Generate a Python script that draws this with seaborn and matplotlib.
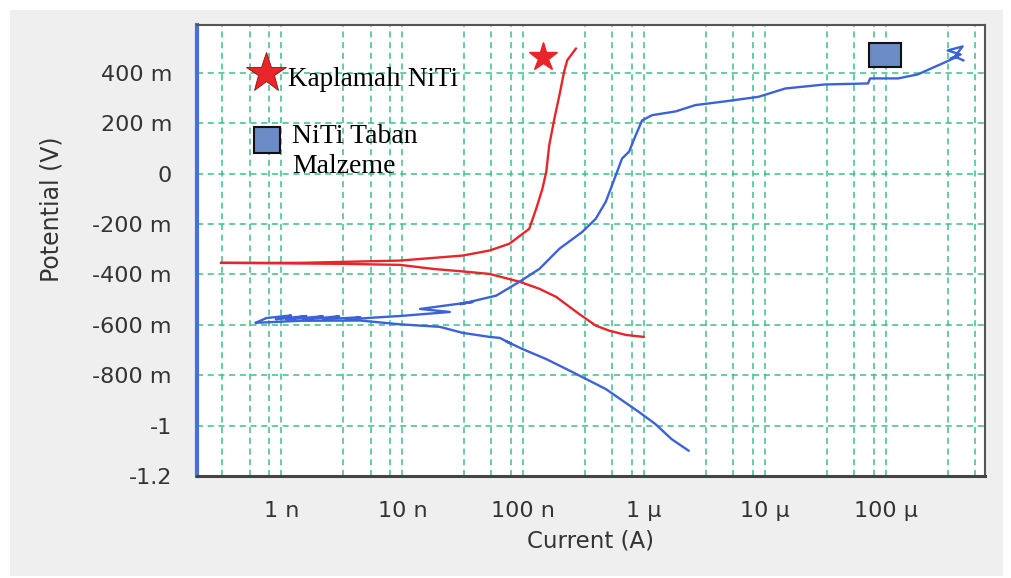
import numpy as np
import pandas as pd
import matplotlib
matplotlib.use("Agg")
import matplotlib.pyplot as plt
from matplotlib.ticker import FixedLocator, MultipleLocator, NullFormatter
from matplotlib.patches import Rectangle
import seaborn as sns

# ---------------- data ----------------
# Kaplamali NiTi (coated) - cathodic branch
red_cath_I = [3.15e-10, 3.25e-9, 9.55e-9, 1.79e-8, 3.16e-8, 5.27e-8, 9.31e-8, 1.36e-7,
              1.87e-7, 2.90e-7, 3.98e-7, 5.13e-7, 7.05e-7, 9.96e-7]
red_cath_E = [-0.354, -0.358, -0.362, -0.378, -0.388, -0.398, -0.429, -0.457,
              -0.489, -0.557, -0.603, -0.623, -0.640, -0.648]
# Kaplamali NiTi - anodic branch
red_an_I = [3.15e-10, 1.43e-9, 9.55e-9, 3.16e-8, 5.27e-8, 7.69e-8, 1.12e-7, 1.28e-7,
            1.44e-7, 1.55e-7, 1.64e-7, 1.81e-7, 1.99e-7, 2.18e-7, 2.31e-7, 2.73e-7]
red_an_E = [-0.354, -0.354, -0.345, -0.325, -0.305, -0.278, -0.219, -0.139,
            -0.060, 0.008, 0.113, 0.219, 0.311, 0.406, 0.450, 0.497]

# NiTi Taban Malzeme (substrate) - cathodic branch
blue_cath_I = [6.11e-10, 1.43e-9, 4.48e-9, 9.55e-9, 2.04e-8, 3.16e-8, 5.27e-8, 6.4e-8,
               8.0e-8, 7.2e-8, 9.84e-8, 1.55e-7, 2.54e-7, 4.82e-7, 9.06e-7, 1.24e-6,
               1.69e-6, 2.34e-6]
blue_cath_E = [-0.592, -0.584, -0.583, -0.598, -0.608, -0.632, -0.648, -0.652,
               -0.676, -0.665, -0.696, -0.736, -0.787, -0.855, -0.946, -0.994,
               -1.054, -1.100]
# NiTi Taban Malzeme - anodic branch
blue_an_I = [6.11e-10, 7.52e-10, 1.2e-9, 9.0e-10, 1.6e-9, 1.1e-9, 2.2e-9, 1.5e-9,
             3.0e-9, 2.2e-9, 4.48e-9, 3.4e-9, 5.5e-9, 9.55e-9, 2.47e-8, 1.40e-8,
             3.82e-8, 3.0e-8, 5.98e-8,
             9.31e-8, 1.36e-7, 1.99e-7, 3.08e-7, 3.98e-7, 4.82e-7, 5.82e-7, 6.56e-7,
             7.50e-7, 8.51e-7, 9.60e-7, 1.16e-6, 1.82e-6, 2.65e-6, 4.69e-6, 8.84e-6,
             1.47e-5, 3.13e-5, 7.11e-5, 7.4e-5, 1.26e-4, 1.84e-4, 2.35e-4, 3.05e-4,
             3.92e-4, 3.43e-4, 4.15e-4, 3.24e-4, 4.31e-4, 3.72e-4, 4.39e-4]
blue_an_E = [-0.592, -0.573, -0.563, -0.578, -0.565, -0.579, -0.566, -0.580,
             -0.566, -0.578, -0.570, -0.580, -0.572, -0.565, -0.549, -0.537,
             -0.509, -0.518, -0.484,
             -0.429, -0.378, -0.298, -0.231, -0.179, -0.111, -0.007, 0.060,
             0.087, 0.152, 0.211, 0.232, 0.247, 0.272, 0.287, 0.305,
             0.338, 0.354, 0.358, 0.378, 0.378, 0.394, 0.417, 0.441,
             0.465, 0.457, 0.473, 0.489, 0.505, 0.465, 0.449]

x_ticks = [1e-9, 1e-8, 1e-7, 1e-6, 1e-5, 1e-4]
x_tick_labels = ["1 n", "10 n", "100 n", "1 μ", "10 μ", "100 μ"]
y_ticks = [0.4, 0.2, 0.0, -0.2, -0.4, -0.6, -0.8, -1.0, -1.2]
y_tick_labels = ["400 m", "200 m", "0", "-200 m", "-400 m", "-600 m", "-800 m", "-1", "-1.2"]
minor_mult = [3.25, 5.45, 7.9]

legend_coated = "Kaplamalı NiTi"
legend_base = ["NiTi Taban", "Malzeme"]
x_label = "Current (A)"
y_label = "Potential (V)"

RED = "#e8252b"
BLUE = "#3c62d8"
GRID = "#3dbf8c"
SQ = "#6b8cc6"

# ---------------- table ----------------
frames = []
for name, I, E in [("red_cath", red_cath_I, red_cath_E),
                   ("red_an", red_an_I, red_an_E),
                   ("blue_cath", blue_cath_I, blue_cath_E),
                   ("blue_an", blue_an_I, blue_an_E)]:
    frames.append(pd.DataFrame({"current": I, "potential": E,
                                "sample": name.split("_")[0], "branch": name}))
df = pd.concat(frames, ignore_index=True)

# ---------------- figure ----------------
sns.set_style("white")
plt.rcParams["font.family"] = ["DejaVu Sans"]
fig = plt.figure(figsize=(10.12, 5.78), dpi=100, facecolor="white")
# light grey panel inside a thin white frame
panel = Rectangle((10 / 1012, 2 / 578), 993 / 1012, 566 / 578,
                  transform=fig.transFigure, facecolor="#efefef",
                  edgecolor="none", zorder=-10)
fig.add_artist(panel)
ax = fig.add_axes([197 / 1012, 1 - 476 / 578, 788 / 1012, 451 / 578])
ax.set_zorder(1)
ax.set_facecolor("white")

sns.lineplot(data=df, x="current", y="potential", hue="sample", units="branch",
             estimator=None, sort=False, palette={"red": RED, "blue": BLUE},
             linewidth=1.7, legend=False, ax=ax)

ax.set_xscale("log")
ax.set_xlim(2.0e-10, 6.6e-4)
ax.set_ylim(-1.2, 0.59)

ax.set_xticks(x_ticks)
ax.set_xticklabels(x_tick_labels)
minors = [m * d for d in [1e-10, 1e-9, 1e-8, 1e-7, 1e-6, 1e-5, 1e-4] for m in minor_mult]
ax.xaxis.set_minor_locator(FixedLocator(minors))
ax.xaxis.set_minor_formatter(NullFormatter())
ax.set_yticks(y_ticks)
ax.set_yticklabels(y_tick_labels)
ax.yaxis.set_minor_locator(MultipleLocator(0.04))

ax.grid(True, which="major", axis="both", color=GRID, linestyle=(0, (4, 3)), linewidth=1.1)
ax.grid(True, which="minor", axis="x", color=GRID, linestyle=(0, (4, 3)), linewidth=1.1)

ax.tick_params(axis="both", which="major", direction="out", length=6, width=1,
               color="#9a9a9a", labelsize=16, labelcolor="#333333")
ax.tick_params(axis="x", which="major", pad=12)
ax.tick_params(axis="y", which="major", pad=12)
ax.tick_params(axis="x", which="minor", length=0)
ax.tick_params(axis="y", which="minor", direction="out", length=4, width=0.8, color="#9a9a9a")

for s in ["top", "right"]:
    ax.spines[s].set_color("#555555")
    ax.spines[s].set_linewidth(1.5)
ax.spines["bottom"].set_color("#444444")
ax.spines["bottom"].set_linewidth(2.2)
ax.spines["left"].set_color("#4a70d8")
ax.spines["left"].set_linewidth(3)

ax.set_xlabel(x_label, fontsize=16.5, color="#333333")
ax.set_ylabel(y_label, fontsize=17, color="#333333")
ax.xaxis.set_label_coords(0.5, -0.118)
ax.yaxis.set_label_coords(-0.170, 0.592)

# ---------------- annotation legend ----------------
ax.plot([0.0876], [0.893], marker="*", markersize=30, color=RED, markeredgecolor="#8a1010",
        markeredgewidth=0.6, transform=ax.transAxes, clip_on=False, linestyle="none")
ax.text(0.1155, 0.864, legend_coated, transform=ax.transAxes, fontsize=19.5,
        family="Liberation Serif", color="black", va="baseline", ha="left")
ax.plot([0.0882], [0.745], marker="s", markersize=19, color=SQ, markeredgecolor="#111111",
        markeredgewidth=1.5, transform=ax.transAxes, linestyle="none")
ax.text(0.1206, 0.7377, legend_base[0], transform=ax.transAxes, fontsize=20,
        family="Liberation Serif", color="black", va="baseline", ha="left")
ax.text(0.1206, 0.671, legend_base[1], transform=ax.transAxes, fontsize=20,
        family="Liberation Serif", color="black", va="baseline", ha="left")

# markers at curve ends
ax.plot([0.439], [0.929], marker="*", markersize=21, color=RED, markeredgecolor=RED,
        transform=ax.transAxes, linestyle="none", clip_on=False)
ax.add_patch(Rectangle((0.873 - 0.0203, 0.933 - 0.0266), 0.0406, 0.0532,
                       transform=ax.transAxes, facecolor=SQ, edgecolor="#111111",
                       linewidth=1.5, zorder=5))

fig.savefig("out.png", dpi=100, facecolor=fig.get_facecolor())
